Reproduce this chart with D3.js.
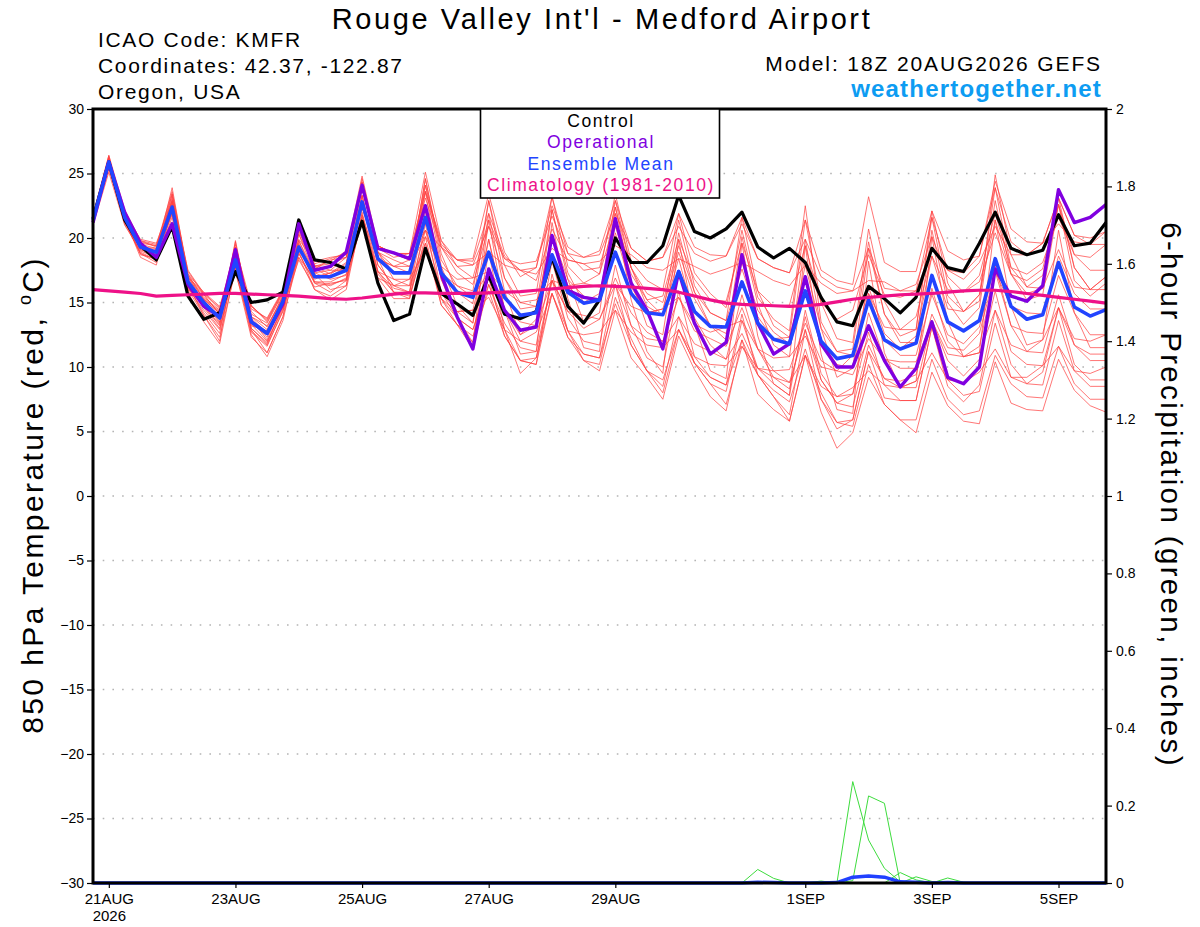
<!DOCTYPE html>
<html><head><meta charset="utf-8">
<script src="https://cdn.jsdelivr.net/npm/d3@7"></script>
<style>body{margin:0;background:#fff}svg{display:block;font-family:"Liberation Sans",Arial,Helvetica,sans-serif}</style>
</head><body><svg id="c" width="1200" height="927"></svg>
<script>
// ---------------- DATA ----------------
const nSteps = 65; // 6-hourly from 18Z 20AUG2026 to 18Z 05SEP2026
const xTickSteps = [1, 9, 17, 25, 33, 45, 53, 61];
const xTickLabels = [["21AUG","2026"],["23AUG"],["25AUG"],["27AUG"],["29AUG"],["1SEP"],["3SEP"],["5SEP"]];
const tempTicks = [30,25,20,15,10,5,0,-5,-10,-15,-20,-25,-30];
const tempGrid = [25,20,15,10,5,0,-5,-10,-15,-20,-25];
const precipTicks = [0,0.2,0.4,0.6,0.8,1,1.2,1.4,1.6,1.8,2];
const legendItems = ["Control","Operational","Ensemble Mean","Climatology (1981-2010)"];

const control = [
21.5,25.9,21.4,19.4,18.3,20.9,15.5,13.7,14.2,17.4,15.0,15.2,15.8,21.4,18.3,18.1,17.6,
21.3,16.5,13.6,14.1,19.2,15.7,14.9,14.0,17.1,14.1,13.75,14.3,18.5,14.7,13.4,15.2,
20.0,18.1,18.1,19.4,23.3,20.5,20.0,20.7,22.0,19.3,18.45,19.2,18.1,15.4,13.5,13.2,
16.25,15.3,14.2,15.4,19.2,17.7,17.4,19.6,22.0,19.2,18.7,19.05,21.8,19.4,19.6,21.2];

const operational = [
21.2,25.9,22.0,19.6,18.5,21.1,16.4,14.7,13.9,19.1,13.5,12.6,14.9,21.1,17.5,17.8,18.9,
24.1,19.2,18.85,18.4,22.5,17.2,13.9,11.4,17.6,14.4,12.85,13.1,20.2,15.95,15.4,15.2,
21.5,16.5,14.4,11.4,17.4,13.4,11.0,11.9,18.7,13.4,11.0,11.8,17.0,11.8,10.0,10.0,
13.2,10.5,8.45,9.9,13.5,9.2,8.7,10.0,17.6,15.5,15.1,16.3,23.75,21.2,21.6,22.6];

const ensembleMean = [
21.4,25.9,21.6,19.3,18.9,22.4,16.6,15.0,13.8,18.3,13.5,12.6,15.1,19.3,17.0,17.0,17.5,
22.8,18.4,17.3,17.3,21.6,17.3,15.8,15.4,18.9,15.4,14.0,14.2,18.7,15.8,14.95,15.2,
18.9,15.7,14.2,14.05,17.4,14.3,13.15,13.1,16.6,13.4,12.15,11.8,15.9,12.0,10.65,10.9,
15.2,12.1,11.4,11.85,17.1,13.5,12.8,13.6,18.4,14.7,13.7,14.05,18.1,14.65,13.95,14.45];

const climatology = [
16.0,15.9,15.8,15.7,15.5,15.55,15.6,15.65,15.7,15.7,15.65,15.6,15.55,15.5,15.4,15.3,
15.25,15.35,15.5,15.65,15.75,15.75,15.7,15.7,15.7,15.75,15.8,15.85,15.95,16.05,16.15,16.25,
16.3,16.25,16.2,16.1,16.0,15.8,15.5,15.2,14.95,14.85,14.8,14.75,14.7,14.75,14.85,15.05,
15.25,15.4,15.5,15.6,15.65,15.7,15.8,15.9,15.95,15.95,15.85,15.7,15.55,15.4,15.25,15.1,14.95];

const member01 = [21.6,26.2,21.7,19.5,19.2,22.9,16.8,15.4,14.4,18.8,14.5,13.8,16.0,20.3,17.8,18.0,18.5,
23.8,19.2,18.5,18.8,23.6,19.5,18.3,18.2,21.9,18.6,17.5,17.7,22.5,19.3,18.5,19.0,
22.9,19.2,18.2,18.5,21.9,19.3,18.7,18.6,21.6,18.4,17.7,17.3,21.4,17.5,16.7,16.4,
23.2,18.1,17.4,17.4,22.1,19.0,18.3,18.6,24.4,20.7,19.7,19.6,23.1,20.2,19.5,19.5];
const member02 = [21.1,25.5,21.1,18.9,18.3,21.6,16.0,14.0,12.3,17.5,12.3,11.1,13.9,18.5,16.0,15.5,16.3,
21.8,17.2,15.8,15.5,19.6,14.8,13.3,12.4,15.9,12.4,10.5,10.7,15.7,12.3,11.0,10.7,
14.9,11.7,9.7,9.0,12.9,10.3,9.2,8.6,12.1,9.4,8.2,7.3,11.4,7.5,5.7,5.4,
10.2,7.1,5.9,5.9,10.6,7.5,6.3,6.6,10.9,8.7,7.7,7.6,11.6,8.7,7.5,7.5];
const member03 = [21.7,26.1,22.1,19.6,19.4,23.6,17.4,15.6,14.1,19.5,14.3,13.1,15.5,20.8,17.9,17.5,18.5,
24.3,18.9,16.8,16.3,24.1,17.8,14.8,13.4,21.9,15.9,12.5,13.2,22.2,16.8,13.5,14.2,
22.4,16.7,13.2,12.5,20.4,15.8,13.2,12.1,20.1,14.9,11.7,10.8,19.9,13.0,9.2,9.9,
19.2,14.1,11.9,11.9,20.6,15.0,13.3,14.6,22.9,17.2,15.2,15.6,22.6,17.7,16.0,17.0];
const member04 = [21.2,25.3,21.3,19.3,19.1,21.9,16.3,15.3,14.3,17.7,13.9,13.2,15.3,18.5,16.8,17.3,17.7,
21.6,18.4,17.8,17.8,20.1,17.8,16.8,16.9,17.4,15.9,15.0,15.2,16.7,16.3,16.5,16.2,
16.4,14.7,14.2,14.5,15.4,13.3,12.7,13.1,13.6,11.4,10.7,10.8,12.4,10.0,9.7,9.4,
12.2,10.6,10.4,10.4,13.6,11.0,10.8,11.1,14.4,11.7,11.2,12.1,14.6,12.2,12.0,12.5];
const member05 = [21.5,26.3,21.6,19.1,18.6,23.2,16.8,14.7,13.2,18.9,13.0,11.8,14.7,19.8,17.3,16.8,17.1,
23.3,17.9,16.3,16.8,22.6,16.8,14.3,14.4,19.9,14.4,12.5,13.7,20.2,16.3,15.0,15.7,
20.9,17.2,15.2,15.5,19.9,16.8,15.2,15.1,19.6,15.9,14.7,14.8,19.4,15.0,13.7,14.4,
18.7,15.6,15.4,15.9,21.6,17.5,17.3,18.6,23.9,19.7,18.7,19.6,23.1,20.2,20.0,20.5];
const member06 = [21.3,25.9,21.4,18.8,18.1,22.1,15.8,13.5,11.8,17.8,12.5,10.8,13.6,19.0,16.0,15.2,16.0,
21.8,16.9,15.3,15.3,20.1,14.8,13.3,11.4,16.4,12.9,9.5,10.7,16.7,12.8,10.5,10.2,
15.4,12.2,9.7,8.0,12.9,10.3,8.7,7.1,11.6,9.4,7.7,5.8,10.9,8.0,5.7,5.9,
11.2,9.1,8.9,9.4,14.1,11.5,11.3,12.6,17.4,14.7,14.2,14.1,18.6,15.7,14.5,14.5];
const member07 = [21.6,25.7,21.9,19.8,19.5,22.4,17.2,15.8,14.7,18.7,14.7,13.6,15.9,19.9,18.2,18.5,18.7,
24.3,19.4,18.8,18.8,25.1,19.8,18.3,18.4,23.4,18.9,17.0,17.7,23.2,18.8,17.5,17.7,
22.4,17.7,15.2,14.0,18.4,13.8,11.7,10.6,15.6,11.4,9.2,8.3,13.9,9.0,7.2,7.9,
12.7,8.6,7.4,7.4,13.1,9.0,7.8,8.1,13.4,9.2,8.7,8.6,13.6,9.7,8.5,8.5];
const member08 = [21.4,26.2,21.8,19.4,18.9,23.9,17.1,15.2,13.5,19.8,13.7,12.1,15.1,21.3,17.8,17.2,18.0,
24.6,18.9,17.3,17.3,24.6,18.8,15.8,14.9,22.9,16.9,14.5,14.7,22.2,17.3,15.0,15.2,
22.9,17.7,14.7,14.0,21.4,16.3,14.2,13.6,21.6,15.9,13.2,12.3,21.4,15.0,12.2,11.9,
20.7,15.1,12.9,12.9,22.1,16.5,14.3,15.1,24.9,18.7,16.2,16.1,23.1,17.7,16.0,16.0];
const member09 = [21.0,25.1,21.0,19.0,18.5,21.2,16.1,14.8,13.8,17.3,13.2,12.8,14.6,18.3,16.2,16.5,16.7,
21.3,17.4,16.8,16.8,19.1,15.3,14.3,14.4,15.4,12.9,12.0,12.7,15.7,12.8,12.5,12.7,
14.4,12.7,11.7,11.5,12.9,10.8,10.2,10.1,11.6,9.9,9.2,8.8,10.9,8.5,7.7,8.4,
9.7,8.6,8.4,8.9,11.1,9.0,8.8,9.6,11.4,9.2,9.2,10.1,11.6,9.7,9.5,10.0];
const member10 = [21.4,25.8,21.6,19.5,18.9,22.7,16.9,15.6,14.1,19.1,13.9,12.9,15.6,19.8,17.0,17.3,18.1,
23.3,18.4,17.8,18.3,23.1,19.3,17.8,17.9,20.9,18.4,18.0,18.2,21.7,18.8,18.5,18.7,
21.9,19.2,18.2,18.5,20.9,18.8,18.2,18.6,21.1,18.4,17.7,17.3,19.9,17.0,16.2,15.9,
19.2,16.1,15.9,16.4,20.1,17.0,15.8,16.6,20.4,17.2,15.7,16.1,19.1,16.2,16.0,17.0];
const member11 = [21.3,26.1,21.4,18.7,18.4,22.8,16.2,14.2,12.6,18.6,12.7,11.6,14.4,19.5,16.5,15.8,16.7,
22.8,17.4,15.8,15.3,21.1,15.3,13.3,11.9,18.9,12.9,10.5,10.2,17.2,12.8,11.0,10.7,
16.4,11.7,9.7,8.5,13.9,10.3,8.7,8.1,13.6,9.9,8.7,7.8,14.4,9.5,7.7,7.9,
14.2,10.6,9.9,9.9,16.1,12.0,10.8,11.6,17.4,13.2,11.2,11.1,15.6,11.7,10.5,10.5];
const member12 = [21.5,25.6,21.6,19.3,19.2,22.2,16.6,14.6,13.0,18.0,13.0,11.9,14.8,18.8,16.6,16.4,16.8,
22.0,17.4,16.1,15.8,20.6,15.8,13.8,12.9,16.9,12.4,10.5,10.2,15.7,12.3,10.5,9.7,
14.4,10.7,9.2,7.5,12.4,9.8,7.7,6.6,12.1,7.9,6.7,5.8,10.9,6.5,3.7,4.9,
9.2,7.1,5.9,4.9,9.6,7.0,5.8,5.6,10.4,7.2,6.7,6.6,10.6,8.2,7.0,6.5];
const member13 = [21.7,26.4,22.2,19.8,19.3,23.4,17.2,15.3,14.0,19.3,13.8,12.6,15.5,20.5,17.8,18.2,19.0,
24.8,19.4,18.8,18.3,24.1,19.3,17.3,16.4,20.9,16.9,15.0,14.7,20.2,16.8,15.5,15.2,
20.4,16.2,14.2,14.5,18.9,15.3,13.2,12.6,18.1,14.4,12.7,11.8,17.9,13.0,11.2,10.9,
16.2,12.6,11.4,12.4,18.6,14.5,14.3,15.6,21.4,17.2,16.7,17.6,22.6,18.7,18.5,19.5];
const member14 = [21.1,25.7,21.2,19.1,18.8,21.8,16.6,15.2,14.2,17.9,14.1,13.4,15.7,19.3,17.3,17.5,17.5,
22.3,18.9,18.3,17.8,20.6,17.3,16.3,15.4,17.4,14.4,13.5,13.2,16.7,14.3,14.0,13.7,
16.4,13.2,12.2,12.0,13.9,11.8,11.2,10.6,12.6,9.9,9.7,9.8,13.4,10.5,9.7,10.9,
15.7,13.1,12.9,13.9,18.6,16.0,15.8,17.1,21.9,17.7,17.2,18.1,21.6,18.7,17.5,17.5];
const member15 = [21.6,26.0,21.5,18.5,17.9,23.0,16.4,14.0,12.0,19.1,12.9,11.1,13.9,20.3,17.2,16.0,16.3,
24.3,18.4,15.8,15.8,23.6,16.8,13.8,11.9,21.4,14.4,11.0,11.2,21.2,15.3,11.5,11.2,
21.9,15.2,11.2,9.5,19.9,13.3,9.7,9.1,19.6,12.4,8.7,7.8,19.4,11.0,6.7,6.4,
18.2,11.1,8.4,8.9,20.1,13.5,10.8,11.1,21.4,14.7,11.7,12.1,20.6,14.2,11.5,11.5];
const member16 = [21.4,25.9,21.9,19.7,19.4,22.0,17.0,15.7,14.6,18.3,14.7,13.7,15.9,19.0,17.6,18.3,18.5,
22.3,19.4,18.8,18.8,20.6,19.3,18.3,17.9,18.9,17.9,17.5,17.2,19.2,18.3,18.0,18.2,
19.4,18.7,17.7,17.5,18.4,17.8,17.2,17.6,18.1,17.4,16.7,16.3,17.9,16.5,15.7,15.9,
16.7,16.6,15.9,15.9,19.1,17.5,16.8,18.1,20.9,18.7,18.7,19.6,21.1,19.7,19.5,20.5];
const member17 = [21.2,26.0,21.5,19.4,18.9,22.6,16.5,14.7,13.3,18.5,13.3,12.0,14.5,19.6,16.6,16.6,17.2,
23.3,17.9,16.3,15.8,22.1,15.8,14.3,13.4,19.9,14.4,12.0,11.7,18.2,13.8,12.0,11.7,
17.9,13.2,10.7,10.0,15.9,10.8,9.2,8.6,14.1,9.4,7.7,6.3,12.9,7.5,5.2,5.9,
11.2,7.6,7.4,7.4,13.1,8.5,7.3,8.6,14.4,10.2,8.7,9.6,14.6,10.2,9.0,9.0];
const member18 = [21.8,26.4,21.8,19.3,18.7,23.4,17.0,15.0,13.4,19.7,13.5,12.3,15.3,21.1,17.6,17.0,17.8,
24.3,18.9,17.8,17.3,24.6,18.3,16.3,15.9,22.9,17.9,15.5,15.7,23.2,17.8,16.5,17.2,
23.4,18.2,16.7,16.0,21.9,17.3,15.7,14.6,20.6,15.4,13.7,12.8,22.5,13.5,11.2,11.4,
19.7,14.1,12.4,12.9,21.6,15.5,14.3,15.6,23.9,17.7,16.2,17.1,22.6,16.7,15.5,16.5];
const member19 = [21.2,25.6,21.3,18.8,18.3,22.0,16.1,14.4,12.9,17.7,12.8,11.7,14.3,18.8,16.5,16.3,16.9,
21.3,16.9,16.3,16.3,19.6,15.3,13.8,12.9,16.4,13.4,11.5,11.2,16.7,14.3,13.0,13.7,
16.9,14.2,12.7,12.0,15.4,12.8,12.2,11.6,14.6,11.4,9.7,8.8,12.9,9.0,7.2,6.9,
11.7,9.1,8.4,8.4,13.6,10.5,9.3,10.6,15.9,11.2,10.2,10.1,14.6,11.7,11.0,11.0];
const member20 = [21.5,25.5,22.0,19.9,19.6,22.9,17.5,15.7,14.5,19.3,14.8,13.5,15.8,20.6,18.0,18.4,18.8,
23.8,19.4,18.8,18.3,23.6,19.8,17.8,16.9,21.4,18.4,17.5,16.7,20.7,18.3,18.0,17.2,
21.4,17.7,15.7,15.0,19.4,15.8,14.2,13.6,17.6,13.9,12.2,12.3,16.9,12.0,10.2,9.9,
15.7,12.1,10.9,10.9,15.6,12.5,11.8,13.1,17.9,13.2,12.7,12.6,17.1,14.2,12.5,12.5];
const members = [member01,member02,member03,member04,member05,member06,member07,member08,member09,member10,
                 member11,member12,member13,member14,member15,member16,member17,member18,member19,member20];

// 6-hour precipitation (inches), members with rain and the ensemble mean
const precipA = [0,0,0,0,0,0,0,0,0,0,0,0,0,0,0,0, 0,0,0,0,0,0,0,0,0,0,0,0,0,0,0,0,
  0,0,0,0,0,0,0,0,0,0,0,0,0,0,0,0, 0.262,0.111,0.038,0.003,0,0,0,0,0,0,0,0,0,0,0,0,0];
const precipB = [0,0,0,0,0,0,0,0,0,0,0,0,0,0,0,0, 0,0,0,0,0,0,0,0,0,0,0,0,0,0,0,0,
  0,0,0,0,0,0,0,0,0,0,0,0,0,0,0,0, 0.006,0.225,0.206,0,0,0,0,0,0,0,0,0,0,0,0,0,0];
const precipC = [0,0,0,0,0,0,0,0,0,0,0,0,0,0,0,0, 0,0,0,0,0,0,0,0,0,0,0,0,0,0,0,0,
  0,0,0,0,0,0,0,0,0,0,0.035,0.012,0,0,0,0, 0,0,0,0,0,0,0,0,0,0,0,0,0,0,0,0,0];
const precipD = [0,0,0,0,0,0,0,0,0,0,0,0,0,0,0,0, 0,0,0,0,0,0,0,0,0,0,0,0,0,0,0,0,
  0,0,0,0,0,0,0,0,0,0,0,0,0,0,0,0, 0,0,0,0.027,0.008,0,0,0,0,0,0,0,0,0,0,0,0];
const precipE = [0,0,0,0,0,0,0,0,0,0,0,0,0,0,0,0, 0,0,0,0,0,0,0,0,0,0,0,0,0,0,0,0,
  0,0,0,0,0,0,0,0,0,0,0,0,0,0,0,0, 0,0,0,0,0.016,0.004,0,0,0,0,0,0,0,0,0,0,0];
const precipF = [0,0,0,0,0,0,0,0,0,0,0,0,0,0,0,0, 0,0,0,0,0,0,0,0,0,0,0,0,0,0,0,0,
  0,0,0,0,0,0,0,0,0,0,0,0,0,0,0.005,0, 0,0,0,0,0,0,0.013,0.002,0,0,0,0,0,0,0,0,0];
const precipMembers = [precipA,precipB,precipC,precipD,precipE,precipF];
const precipMean = [0,0,0,0,0,0,0,0,0,0,0,0,0,0,0,0, 0,0,0,0,0,0,0,0,0,0,0,0,0,0,0,0,
  0,0,0,0,0,0,0,0,0,0,0.002,0.001,0,0,0,0.001, 0.015,0.018,0.015,0.003,0.002,0,0.001,0,0,0,0,0,0,0,0,0,0];

// ---------------- DRAW ----------------
const FONT = '"Liberation Sans",Arial,Helvetica,sans-serif';
const box = {l:93, r:1106, t:109, b:883};
const svg = d3.select('#c');
const x = d3.scaleLinear().domain([0, nSteps-1]).range([box.l, box.r]);
const yT = d3.scaleLinear().domain([-30, 30]).range([box.b, box.t]);
const yP = d3.scaleLinear().domain([0, 2]).range([box.b, box.t]);

// gridlines
svg.append('g').selectAll('line').data(tempGrid).join('line')
  .attr('x1', box.l).attr('x2', box.r)
  .attr('y1', d => yT(d)).attr('y2', d => yT(d))
  .attr('stroke', '#b4b4b4').attr('stroke-width', 1.6).attr('stroke-dasharray', '1.6,8.1');

const lineT = d3.line().x((d,i) => x(i)).y(d => yT(d));
const lineP = d3.line().x((d,i) => x(i)).y(d => yP(d));

// ensemble members
svg.append('g').selectAll('path').data(members).join('path')
  .attr('d', lineT).attr('fill','none').attr('stroke','#ff4040').attr('stroke-width',0.8)
  .attr('stroke-opacity',0.9).attr('stroke-linejoin','round');

// precip members
svg.append('g').selectAll('path').data(precipMembers).join('path')
  .attr('d', lineP).attr('fill','none').attr('stroke','#3ddc3d').attr('stroke-width',1);

// precip mean
svg.append('path').datum(precipMean).attr('d', lineP).attr('fill','none')
  .attr('stroke','#2040ff').attr('stroke-width',3.5).attr('stroke-linejoin','round');

// control, operational, mean, climatology
const mains = [
  {d: control, c: '#000000', w: 3.2},
  {d: operational, c: '#8000e0', w: 3.4},
  {d: ensembleMean, c: '#2244ff', w: 3.6},
  {d: climatology, c: '#ee1188', w: 3.2}
];
svg.append('g').selectAll('path').data(mains).join('path')
  .attr('d', m => lineT(m.d)).attr('fill','none')
  .attr('stroke', m => m.c).attr('stroke-width', m => m.w).attr('stroke-linejoin','round');

// frame
svg.append('rect').attr('x', box.l).attr('y', box.t)
  .attr('width', box.r - box.l).attr('height', box.b - box.t)
  .attr('fill','none').attr('stroke','#000').attr('stroke-width',3);

// axes
function styleAxis(g, size){
  g.select('.domain').remove();
  g.selectAll('line').attr('stroke','#000').attr('stroke-width',1.2);
  g.selectAll('text').attr('font-family', FONT).attr('font-size', size).attr('fill','#000');
  g.attr('font-family', FONT);
}
const axL = svg.append('g').attr('transform', `translate(${box.l},0)`)
  .call(d3.axisLeft(yT).tickValues(tempTicks).tickSize(6).tickPadding(3).tickFormat(d3.format('d')));
styleAxis(axL, 14);
const axR = svg.append('g').attr('transform', `translate(${box.r},0)`)
  .call(d3.axisRight(yP).tickValues(precipTicks).tickSize(6).tickPadding(4)
    .tickFormat(d => Number.isInteger(d) ? String(d) : d3.format('.1f')(d)));
styleAxis(axR, 14);
const axB = svg.append('g').attr('transform', `translate(0,${box.b})`)
  .call(d3.axisBottom(x).tickValues(xTickSteps).tickSize(5).tickPadding(5).tickFormat(''));
styleAxis(axB, 15);
axB.selectAll('.tick').each(function(d,i){
  const t = d3.select(this).append('text').attr('font-family', FONT).attr('font-size', 15)
    .attr('fill','#000').attr('text-anchor','middle').attr('y', 10);
  xTickLabels[i].forEach((s,j) => t.append('tspan').attr('x', 0).attr('dy', j ? '1.13em' : '0.71em').text(s));
});

// legend
const lg = svg.append('g');
lg.append('rect').attr('x', 480.5).attr('y', 109).attr('width', 239).attr('height', 89)
  .attr('fill','#fff').attr('stroke','#000').attr('stroke-width',1.6);
const legendColors = ['#000000','#8000e0','#2244ff','#ee1188'];
lg.selectAll('text').data(legendItems).join('text')
  .attr('x', 601).attr('y', (d,i) => 127 + i*21.3)
  .attr('text-anchor','middle').attr('font-family', FONT).attr('font-size', 17.5)
  .attr('letter-spacing', '0.09em')
  .attr('fill', (d,i) => legendColors[i]).text(d => d);

// titles
function txt(s, xx, yy, size, anchor, opts){
  const t = svg.append('text').attr('x', xx).attr('y', yy).attr('font-family', FONT)
    .attr('font-size', size).attr('text-anchor', anchor).attr('fill', (opts && opts.fill) || '#000')
    .attr('letter-spacing', (opts && opts.ls) || '0.08em').text(s);
  if (opts && opts.bold) t.attr('font-weight','bold');
  return t;
}
txt("Rouge Valley Int'l - Medford Airport", 602, 29, 29, 'middle', {ls:'0.09em'});
txt("ICAO Code: KMFR", 98, 47, 21, 'start');
txt("Coordinates: 42.37, -122.87", 98, 73, 21, 'start');
txt("Oregon, USA", 98, 99, 21, 'start');
txt("Model: 18Z 20AUG2026 GEFS", 1102, 71, 21, 'end', {ls:'0.09em'});
txt("weathertogether.net", 1102, 97, 24, 'end', {fill:'#0d9cf2', bold:true, ls:'0.05em'});

// axis titles
const lt = svg.append('text').attr('transform','translate(43,495) rotate(-90)')
  .attr('text-anchor','middle').attr('font-family', FONT).attr('font-size', 30)
  .attr('letter-spacing','0.08em').attr('fill','#000');
lt.append('tspan').text('850 hPa Temperature (red, ');
lt.append('tspan').attr('font-size', 18).attr('dy', -12).text('o');
lt.append('tspan').attr('dy', 12).text('C)');
svg.append('text').attr('transform','translate(1161,495) rotate(90)')
  .attr('text-anchor','middle').attr('font-family', FONT).attr('font-size', 29.5)
  .attr('letter-spacing','0.08em').attr('fill','#000')
  .text('6-hour Precipitation (green, inches)');
</script>
</body></html>
